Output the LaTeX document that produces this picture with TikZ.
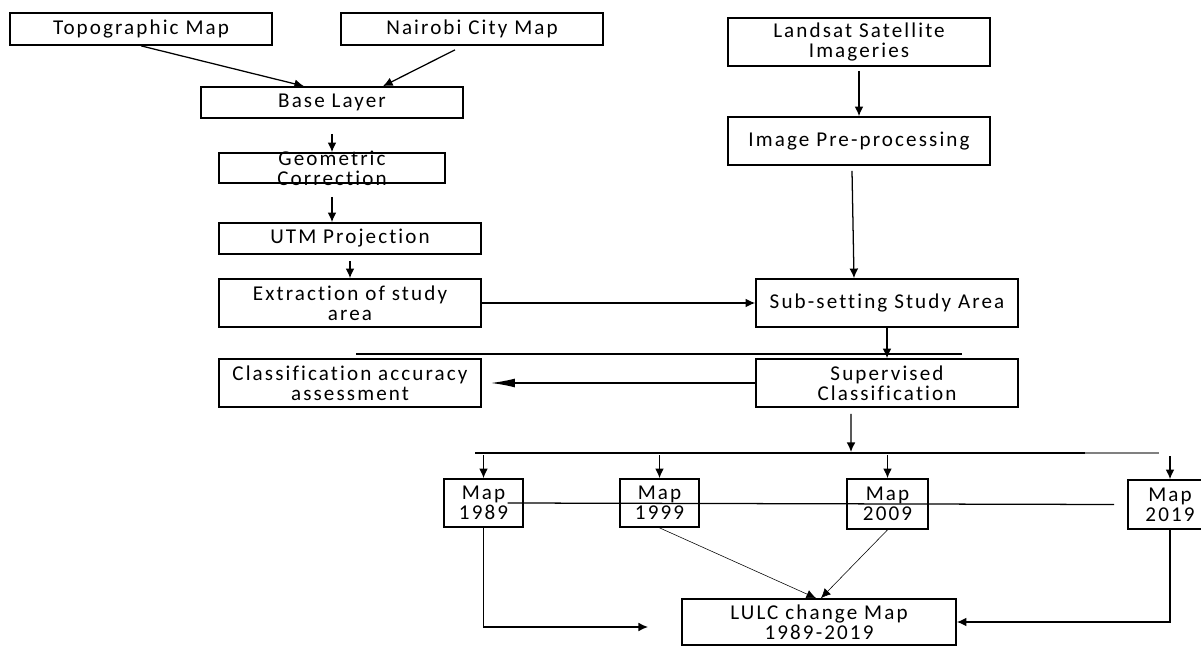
\documentclass[tikz,border=0pt]{standalone}
\usepackage{fontspec}
\setmainfont{Carlito}[LetterSpace=10, Ligatures=CommonOff]
\usetikzlibrary{arrows.meta}
\begin{document}
\begin{tikzpicture}[>={Latex[length=2.4mm,width=2.2mm]}, line width=0.9pt,
  box/.style={draw, line width=1.2pt, align=center, inner sep=0pt, font=\fontsize{15pt}{14pt}\selectfont}]
\useasboundingbox (0,0) rectangle (30.025,-16.15);
\clip (0,0) rectangle (30.025,-16.15);
\node[box, minimum width=6.55cm, minimum height=0.8cm] (topo) at (3.525,-0.725) {Topographic Map};
\node[box, minimum width=6.55cm, minimum height=0.8cm] (city) at (11.8,-0.725) {Nairobi City Map};
\node[box, minimum width=6.55cm, minimum height=0.775cm] (base) at (8.3,-2.5625) {Base Layer};
\node[box, minimum width=5.65cm, minimum height=0.75cm, inner ysep=-8pt] (geo) at (8.3,-4.2) {Geometric\\Correction};
\node[box, minimum width=6.55cm, minimum height=0.775cm] (utm) at (8.75,-5.9625) {UTM Projection};
\node[box, minimum width=6.55cm, minimum height=1.2cm] (extract) at (8.75,-7.575) {Extraction of study\\area};
\node[box, minimum width=6.55cm, minimum height=1.2cm] (accuracy) at (8.75,-9.575) {Classification accuracy\\assessment};
\node[box, minimum width=6.55cm, minimum height=1.2cm] (landsat) at (21.475,-1.05) {Landsat Satellite\\Imageries};
\node[box, minimum width=6.55cm, minimum height=1.2cm] (preproc) at (21.475,-3.525) {Image Pre-processing};
\node[box, minimum width=6.55cm, minimum height=1.2cm] (subset) at (22.175,-7.575) {Sub-setting Study Area};
\node[box, minimum width=6.55cm, minimum height=1.2cm] (superv) at (22.175,-9.575) {Supervised\\Classification};
\node[box, minimum width=1.975cm, minimum height=1.2cm] (m1989) at (12.0875,-12.575) {Map\\1989};
\node[box, minimum width=1.975cm, minimum height=1.2cm] (m1999) at (16.4875,-12.575) {Map\\1999};
\node[box, minimum width=2.025cm, minimum height=1.25cm] (m2009) at (22.1875,-12.6) {Map\\2009};
\node[box, minimum width=2.1cm, minimum height=1.225cm] (m2019) at (29.25,-12.6125) {Map\\2019};
\node[box, minimum width=6.85cm, minimum height=1.15cm] (lulc) at (20.475,-15.55) {LULC change Map\\1989-2019};
\coordinate (sepw) at (8.9,-8.85);
\coordinate (sepe) at (24.05,-8.85);
\coordinate (busw) at (11.875,-11.325);
\coordinate (busm) at (27.125,-11.325);
\coordinate (buse) at (28.975,-11.325);
\coordinate (busin) at (21.275,-11.3);
\coordinate (lulcin) at (16.2,-15.675);
\draw[->] (topo.south) -- ([xshift=-0.7cm]base.north);
\draw[->] ([xshift=-0.425cm,yshift=-0.1cm]city.south) -- ([xshift=1.275cm]base.north);
\draw[->] ([yshift=-0.375cm]base.south) -- (geo.north);
\draw[->] ([yshift=-0.325cm]geo.south) -- ([xshift=-0.45cm]utm.north);
\draw[->] ([yshift=-0.15cm]utm.south) -- (extract.north);
\draw[->] (extract.east) -- (subset.west);
\draw[->] ([yshift=-0.1cm]landsat.south) -- (preproc.north);
\draw[->] ([xshift=-0.175cm,yshift=-0.125cm]preproc.south) -- ([xshift=-0.825cm]subset.north);
\draw[->] (subset.south) -- (superv.north);
\draw (sepw) -- (sepe);
\draw[-{Latex[length=6mm,width=2.2mm]}] (superv.west) -- ([xshift=0.225cm]accuracy.east);
\draw[->] ([xshift=-0.9cm,yshift=-0.15cm]superv.south) -- (busin);
\draw (busw) -- (busm);
\draw[gray] (busm) -- (buse);
\draw[->] ([yshift=0.575cm]m1989.north) -- (m1989.north);
\draw[->] ([yshift=0.575cm]m1999.north) -- (m1999.north);
\draw[->] ([yshift=0.575cm]m2009.north) -- (m2009.north);
\draw[->] ([yshift=0.575cm]m2019.north) -- (m2019.north);
\draw ([xshift=0.6cm]m1989.center) -- ([xshift=-0.325cm]m2019.west);
\draw[->] (m1989.south) |- (lulcin);
\draw[->, thin] (m1999.south) -- ([xshift=-0.075cm]lulc.north);
\draw[->, thin] (m2009.south) -- ([xshift=0.05cm]lulc.north);
\draw[->] (m2019.south) |- (lulc.east);
\end{tikzpicture}
\end{document}
